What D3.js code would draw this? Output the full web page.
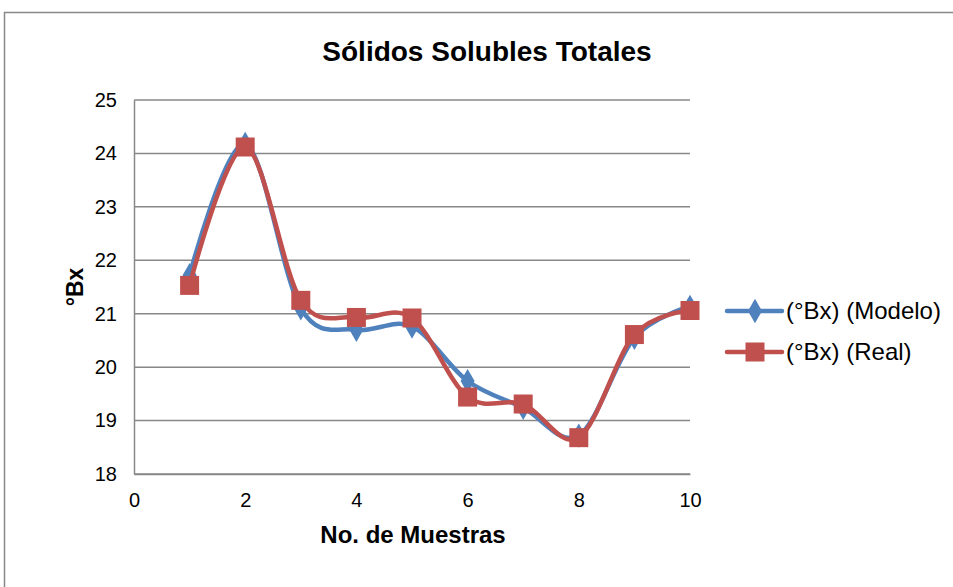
<!DOCTYPE html>
<html><head><meta charset="utf-8">
<script src="https://cdn.jsdelivr.net/npm/d3@7"></script>
<style>body{margin:0;background:#fff;}text{font-family:"Liberation Sans",Arial,sans-serif;}</style>
</head><body>
<svg id="c" width="953" height="587"></svg>
<script>
const samples = [1,2,3,4,5,6,7,8,9,10];
const modelo = [21.72,24.18,21.1,20.7,20.76,19.74,19.24,18.72,20.55,21.13];
const real = [21.53,24.12,21.25,20.93,20.92,19.44,19.31,18.68,20.61,21.06];
const xTicks = [0,2,4,6,8,10];
const yTicks = [18,19,20,21,22,23,24,25];
const seriesNames = ["(°Bx) (Modelo)","(°Bx) (Real)"];
const colors = ["#4F81BD","#C0504D"];

const svg = d3.select("#c");
svg.append("rect").attr("x",4.5).attr("y",12.5).attr("width",960).attr("height",590)
  .attr("fill","#fff").attr("stroke","#888").attr("stroke-width",1.5);

const x = d3.scaleLinear().domain([0,10]).range([134,690]);
const y = d3.scaleLinear().domain([18,25]).range([474,100]);

// gridlines
svg.append("g").selectAll("line").data(yTicks).join("line")
  .attr("x1",x(0)).attr("x2",x(10)).attr("y1",d=>y(d)).attr("y2",d=>y(d))
  .attr("stroke","#888").attr("stroke-width",1.5);

// axes
const ya = svg.append("g").attr("transform",`translate(${x(0)},0)`)
  .call(d3.axisLeft(y).tickValues(yTicks).tickFormat(d3.format("d")).tickSize(0).tickPadding(17));
const xa = svg.append("g").attr("transform",`translate(0,${y(18)})`)
  .call(d3.axisBottom(x).tickValues(xTicks).tickFormat(d3.format("d")).tickSize(0).tickPadding(19));
[ya,xa].forEach(a=>{
  a.attr("font-size",null);
  a.select(".domain").attr("stroke","#888").attr("stroke-width",1.5);
  a.selectAll("text").style("font-size","20px").attr("fill","#000")
   .style("font-family","Liberation Sans, Arial, sans-serif");
});

// title and labels
svg.append("text").attr("x",487).attr("y",61).attr("text-anchor","middle")
  .attr("font-size",28).attr("font-weight","bold").text("Sólidos Solubles Totales");
svg.append("text").attr("x",413).attr("y",543).attr("text-anchor","middle")
  .attr("font-size",24).attr("font-weight","bold").text("No. de Muestras");
svg.append("text").attr("transform","translate(83,287) rotate(-90)").attr("text-anchor","middle")
  .attr("font-size",23).attr("font-weight","bold").text("°Bx");

const line = d3.line().x((d,i)=>x(samples[i])).y(d=>y(d)).curve(d3.curveCardinal.tension(0));
const data = [modelo, real];

data.forEach((vals,k)=>{
  svg.append("path").attr("d",line(vals)).attr("fill","none")
    .attr("stroke",colors[k]).attr("stroke-width",4.5).attr("stroke-linejoin","round");
  const g = svg.append("g");
  if(k===0){
    g.selectAll("path").data(vals).join("path")
      .attr("d",d3.symbol(d3.symbolDiamond,170)())
      .attr("transform",(d,i)=>`translate(${x(samples[i])},${y(d)})`)
      .attr("fill",colors[k]);
  } else {
    g.selectAll("rect").data(vals).join("rect")
      .attr("x",(d,i)=>x(samples[i])-9.5).attr("y",d=>y(d)-9.5)
      .attr("width",19).attr("height",19).attr("fill",colors[k]);
  }
});

// legend
const leg = svg.append("g");
seriesNames.forEach((n,k)=>{
  const ly = 311 + k*41;
  leg.append("line").attr("x1",727).attr("x2",782).attr("y1",ly).attr("y2",ly)
    .attr("stroke",colors[k]).attr("stroke-width",4.5).attr("stroke-linecap","round");
  if(k===0){
    leg.append("path").attr("d",d3.symbol(d3.symbolDiamond,170)())
      .attr("transform",`translate(755,${ly})`).attr("fill",colors[k]);
  } else {
    leg.append("rect").attr("x",745.5).attr("y",ly-9.5).attr("width",19).attr("height",19).attr("fill",colors[k]);
  }
  leg.append("text").attr("x",786).attr("y",ly+8).attr("font-size",24).text(n);
});
</script>
</body></html>
